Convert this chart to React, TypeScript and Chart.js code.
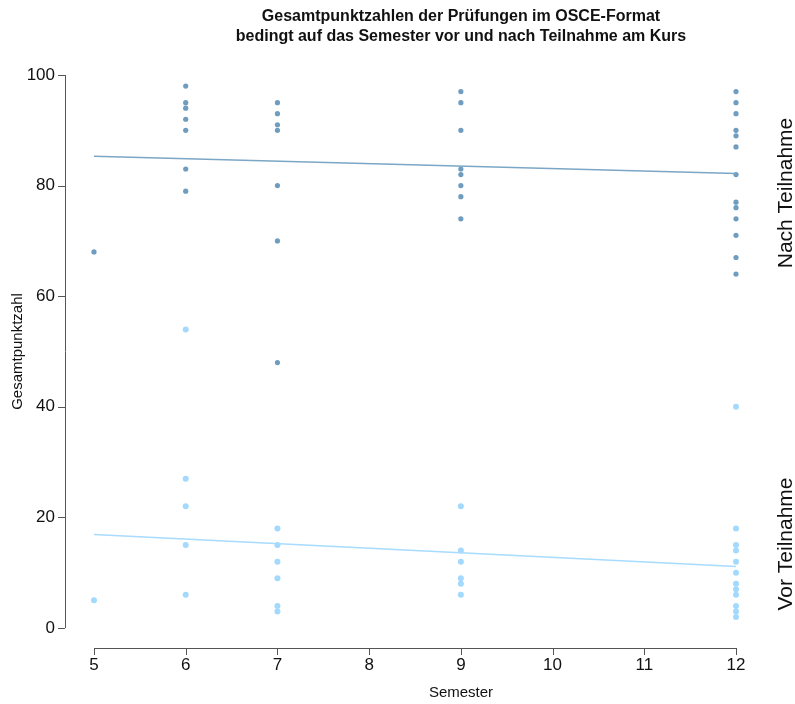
import React, { useEffect, useRef } from "react";
import { Chart, registerables } from "chart.js";

Chart.register(...registerables);

const semesters = [5, 6, 7, 9, 12];
const nachScores = [
  [68],
  [98, 95, 94, 92, 90, 83, 79],
  [95, 93, 91, 90, 80, 70, 48],
  [97, 95, 90, 83, 82, 80, 78, 74],
  [97, 95, 93, 90, 89, 87, 82, 77, 76, 74, 71, 67, 64],
];
const vorScores = [
  [5],
  [54, 27, 22, 15, 6],
  [18, 15, 12, 9, 4, 3],
  [22, 14, 12, 9, 8, 6],
  [40, 18, 15, 14, 12, 10, 8, 7, 6, 4, 3, 2],
];
const trendX = [5, 12];
const trendNach = [85.3, 82.2];
const trendVor = [16.9, 11.1];
const xTicks = [5, 6, 7, 8, 9, 10, 11, 12];
const yTicks = [0, 20, 40, 60, 80, 100];
const titleLines = [
  "Gesamtpunktzahlen der Prüfungen im OSCE-Format",
  "bedingt auf das Semester vor und nach Teilnahme am Kurs",
];

const FONT = "'Liberation Sans', Arial, sans-serif";

function toPoints(scores: number[][]) {
  const pts: { x: number; y: number }[] = [];
  semesters.forEach((s, i) => scores[i].forEach((v) => pts.push({ x: s, y: v })));
  return pts;
}

const decorPlugin = {
  id: "decor",
  afterDraw(chart: any) {
    const ctx = chart.ctx;
    const xs = chart.scales.x;
    const ys = chart.scales.y;
    const area = chart.chartArea;
    const axisX = area.left - 29;
    const axisY = area.bottom + 20;
    ctx.save();
    ctx.strokeStyle = "#555";
    ctx.lineWidth = 1;
    ctx.beginPath();
    ctx.moveTo(axisX + 0.5, ys.getPixelForValue(yTicks[0]));
    ctx.lineTo(axisX + 0.5, ys.getPixelForValue(yTicks[yTicks.length - 1]));
    yTicks.forEach((t) => {
      const py = Math.round(ys.getPixelForValue(t)) + 0.5;
      ctx.moveTo(axisX, py);
      ctx.lineTo(axisX - 7, py);
    });
    ctx.moveTo(xs.getPixelForValue(xTicks[0]), axisY + 0.5);
    ctx.lineTo(xs.getPixelForValue(xTicks[xTicks.length - 1]), axisY + 0.5);
    xTicks.forEach((t) => {
      const px = Math.round(xs.getPixelForValue(t)) + 0.5;
      ctx.moveTo(px, axisY);
      ctx.lineTo(px, axisY + 7);
    });
    ctx.stroke();

    ctx.fillStyle = "#111";
    ctx.font = `17px ${FONT}`;
    ctx.textAlign = "right";
    ctx.textBaseline = "middle";
    yTicks.forEach((t) => ctx.fillText(String(t), axisX - 10, ys.getPixelForValue(t)));
    ctx.textAlign = "center";
    ctx.textBaseline = "top";
    xTicks.forEach((t) => ctx.fillText(String(t), xs.getPixelForValue(t), axisY + 9));

    ctx.font = `15px ${FONT}`;
    ctx.textBaseline = "middle";
    ctx.fillText("Semester", 461, 693);
    ctx.save();
    ctx.translate(18, (area.top + area.bottom) / 2);
    ctx.rotate(-Math.PI / 2);
    ctx.fillText("Gesamtpunktzahl", 0, 0);
    ctx.restore();

    ctx.font = `bold 16px ${FONT}`;
    ctx.fillText(titleLines[0], 461, 17);
    ctx.fillText(titleLines[1], 461, 37);

    ctx.font = `21px ${FONT}`;
    ctx.save();
    ctx.translate(786, 193);
    ctx.rotate(-Math.PI / 2);
    ctx.fillText("Nach Teilnahme", 0, 0);
    ctx.restore();
    ctx.save();
    ctx.translate(786, 544);
    ctx.rotate(-Math.PI / 2);
    ctx.fillText("Vor Teilnahme", 0, 0);
    ctx.restore();
    ctx.restore();
  },
};

export default function App() {
  const ref = useRef<HTMLCanvasElement | null>(null);
  useEffect(() => {
    document.body.style.margin = "0";
    const canvas = ref.current!;
    const chart = new Chart(canvas, {
      type: "scatter",
      data: {
        datasets: [
          {
            type: "line",
            data: trendX.map((x, i) => ({ x, y: trendNach[i] })),
            borderColor: "#7ba6c6",
            borderWidth: 1.5,
            pointRadius: 0,
            fill: false,
          } as any,
          {
            type: "line",
            data: trendX.map((x, i) => ({ x, y: trendVor[i] })),
            borderColor: "#a7dbff",
            borderWidth: 1.5,
            pointRadius: 0,
            fill: false,
          } as any,
          {
            data: toPoints(nachScores),
            backgroundColor: "#6e9dbf",
            borderWidth: 0,
            pointRadius: 2.6,
          },
          {
            data: toPoints(vorScores),
            backgroundColor: "#a3d9fd",
            borderWidth: 0,
            pointRadius: 3,
          },
        ],
      },
      options: {
        responsive: false,
        animation: false,
        clip: false as any,
        layout: { padding: { left: 94, right: 59, top: 75, bottom: 76 } },
        scales: {
          x: { type: "linear", min: 5, max: 12, display: false },
          y: { type: "linear", min: 0, max: 100, display: false },
        },
        plugins: { legend: { display: false }, tooltip: { enabled: false } },
      },
      plugins: [decorPlugin],
    });
    return () => chart.destroy();
  }, []);
  return <canvas ref={ref} width={795} height={704} style={{ display: "block" }} />;
}
